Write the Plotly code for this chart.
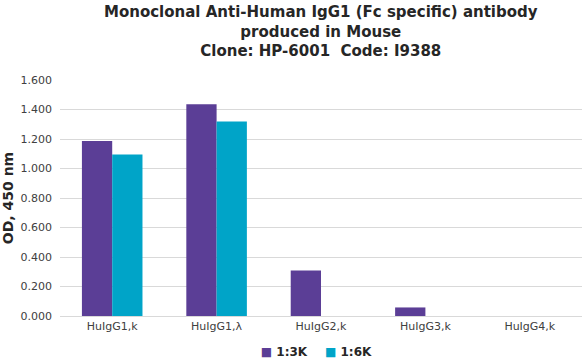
import plotly.graph_objects as go

categories = ["HuIgG1,k", "HuIgG1,λ", "HuIgG2,k", "HuIgG3,k", "HuIgG4,k"]
series_names = ["1:3K", "1:6K"]
values_3k = [1.186, 1.435, 0.308, 0.058, 0.0]
values_6k = [1.095, 1.318, 0.0, 0.0, 0.0]
y_ticks = [0.0, 0.2, 0.4, 0.6, 0.8, 1.0, 1.2, 1.4, 1.6]
title_lines = ["Monoclonal Anti-Human IgG1 (Fc specific) antibody",
               "produced in Mouse",
               "Clone: HP-6001  Code: I9388"]

colors = ["#5b3e96", "#00a4c8"]
legend_ids = ["legend", "legend2"]
legend_x = [0.308, 0.431]
font_family = "DejaVu Sans, Verdana, sans-serif"

fig = go.Figure()
for name, vals, col in zip(series_names, [values_3k, values_6k], colors):
    fig.add_trace(go.Bar(name=name, x=categories, y=vals, marker_color=col,
                         marker_line_width=0, showlegend=False))
# compact legend entries: coloured square glyph + label, one legend per series
for name, col, lid in zip(series_names, colors, legend_ids):
    fig.add_trace(go.Scatter(
        x=[None], y=[None], mode="lines", line=dict(width=0, color="rgba(0,0,0,0)"),
        name=f"<span style='color:{col}'>■</span> {name}", showlegend=True,
        legend=lid, hoverinfo="skip"))

legend_font = dict(family=font_family, size=12, color="#262626", weight="bold")
fig.update_layout(
    width=582, height=360,
    margin=dict(l=60, r=0, t=80, b=44, autoexpand=False),
    paper_bgcolor="white", plot_bgcolor="white",
    barmode="group", bargap=0.42, bargroupgap=0,
    font=dict(family=font_family, color="#404040", size=11),
    legend=dict(orientation="h", x=legend_x[0], xanchor="left", y=-0.087, yanchor="top",
                font=legend_font, itemwidth=30, bgcolor="rgba(0,0,0,0)"),
    legend2=dict(orientation="h", x=legend_x[1], xanchor="left", y=-0.087, yanchor="top",
                 font=legend_font, itemwidth=30, bgcolor="rgba(0,0,0,0)"),
    showlegend=True,
)
fig.add_annotation(
    text="<br>".join(title_lines), showarrow=False,
    xref="paper", yref="paper", x=0.5, xanchor="center",
    y=1 + 79 / 236, yanchor="top", align="center",
    font=dict(family=font_family, size=15, color="#262626", weight="bold"),
)
fig.update_xaxes(showline=True, linecolor="#d9d9d9", linewidth=1, ticks="",
                 tickfont=dict(size=11, color="#404040"), automargin=False)
fig.update_yaxes(range=[0, 1.6], tickvals=y_ticks, tickformat=".3f",
                 showgrid=True, gridcolor="#d9d9d9", gridwidth=1, zeroline=False,
                 showline=False, ticks="", ticklen=0, automargin=False,
                 ticklabelstandoff=7,
                 tickfont=dict(size=11, color="#404040"),
                 title=dict(text="OD, 450 nm", standoff=5,
                            font=dict(family=font_family, size=14, color="#262626", weight="bold")))

fig.write_html("out.html", config={"displayModeBar": False},
               post_script="document.body.style.margin='0';")
